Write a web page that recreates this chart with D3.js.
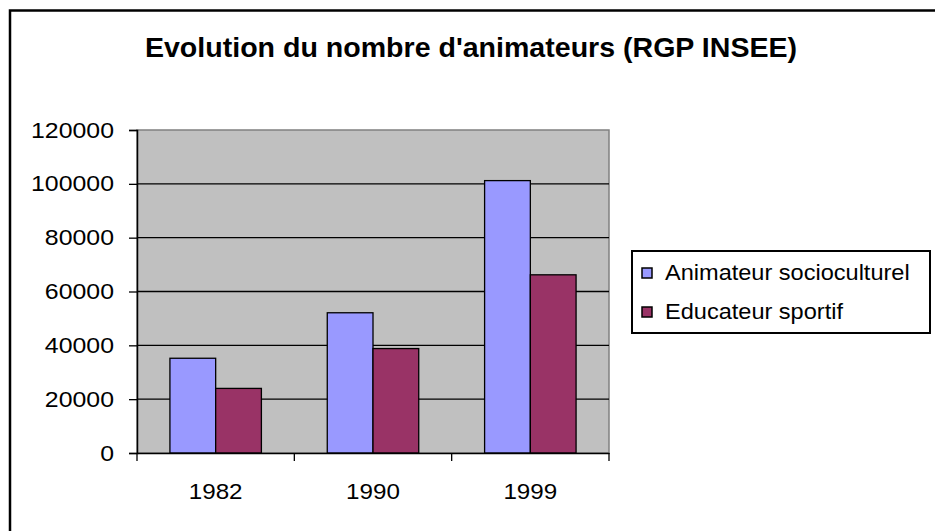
<!DOCTYPE html>
<html>
<head>
<meta charset="utf-8">
<script src="https://cdn.jsdelivr.net/npm/d3@7"></script>
<style>
  html, body { margin: 0; padding: 0; background: #fff; }
  svg { display: block; font-family: "Liberation Sans", Arial, sans-serif; }
</style>
</head>
<body>
<svg id="chart" width="935" height="531"></svg>
<script>
const title = "Evolution du nombre d'animateurs (RGP INSEE)";
const categories = ["1982", "1990", "1999"];
const seriesNames = ["Animateur socioculturel", "Educateur sportif"];
const animateurValues = [35200, 52100, 101200];
const educateurValues = [24000, 38800, 66200];
const seriesColors = ["#9999FF", "#993366"];
const yTicks = [0, 20000, 40000, 60000, 80000, 100000, 120000];

const seriesValues = [animateurValues, educateurValues];
const rows = categories.map((c, i) => ({
  cat: c,
  vals: seriesNames.map((s, j) => ({ series: s, idx: j, value: seriesValues[j][i] }))
}));

// stretch text horizontally like the reference rendering
function stretch(sel, factor) {
  sel.each(function () {
    const w = this.getComputedTextLength();
    d3.select(this).attr("textLength", w * factor).attr("lengthAdjust", "spacingAndGlyphs");
  });
}

const svg = d3.select("#chart");
const plot = { left: 137, right: 609, top: 130, bottom: 453 };

// outer chart border (cropped on right/bottom)
svg.append("path")
  .attr("d", `M10,535 L10,10.5 L940,10.5`)
  .attr("fill", "none").attr("stroke", "#000").attr("stroke-width", 2.5);

svg.append("text")
  .attr("x", 471).attr("y", 57)
  .attr("text-anchor", "middle")
  .attr("font-weight", "bold").attr("font-size", 28)
  .text(title)
  .call(stretch, 1.02);

const x = d3.scaleBand().domain(categories).range([plot.left, plot.right]).padding(0);
const xInner = d3.scaleBand().domain(seriesNames).range([0, x.bandwidth()])
  .paddingInner(0).paddingOuter(0.72);
const y = d3.scaleLinear().domain([0, 120000]).range([plot.bottom, plot.top]);

// plot area
svg.append("rect")
  .attr("x", plot.left).attr("y", plot.top)
  .attr("width", plot.right - plot.left).attr("height", plot.bottom - plot.top)
  .attr("fill", "#C0C0C0").attr("stroke", "#808080").attr("stroke-width", 1.5);

// gridlines
svg.append("g").selectAll("line").data(yTicks.filter(t => t > 0 && t < 120000)).join("line")
  .attr("x1", plot.left).attr("x2", plot.right)
  .attr("y1", d => y(d)).attr("y2", d => y(d))
  .attr("stroke", "#000").attr("stroke-width", 1.3);

// bars
const groups = svg.append("g").selectAll("g").data(rows).join("g")
  .attr("transform", d => `translate(${x(d.cat)},0)`);
groups.selectAll("rect").data(d => d.vals).join("rect")
  .attr("x", d => xInner(d.series))
  .attr("width", xInner.bandwidth())
  .attr("y", d => y(d.value))
  .attr("height", d => y(0) - y(d.value))
  .attr("fill", d => seriesColors[d.idx])
  .attr("stroke", "#000").attr("stroke-width", 1.3);

// y axis
const yAxis = d3.axisLeft(y).tickValues(yTicks).tickFormat(d3.format("d")).tickSize(8).tickPadding(15);
const gy = svg.append("g").attr("transform", `translate(${plot.left},0)`).call(yAxis);
gy.select(".domain").attr("stroke", "#000").attr("stroke-width", 1.5);
gy.selectAll(".tick line").attr("stroke", "#000").attr("stroke-width", 1.3);
gy.selectAll(".tick text").attr("font-size", 22).attr("fill", "#000")
  .attr("font-family", "Liberation Sans, Arial, sans-serif")
  .call(stretch, 1.13);

// x axis
const xAxis = d3.axisBottom(x).tickSize(0).tickPadding(30);
const gx = svg.append("g").attr("transform", `translate(0,${plot.bottom})`).call(xAxis);
gx.select(".domain").attr("stroke", "#000").attr("stroke-width", 1.5);
gx.selectAll(".tick text").attr("font-size", 22).attr("fill", "#000")
  .attr("font-family", "Liberation Sans, Arial, sans-serif")
  .call(stretch, 1.1);
// category separator ticks
const sepPositions = categories.map(c => x(c)).concat([plot.right]);
gx.append("g").selectAll("line").data(sepPositions).join("line")
  .attr("x1", d => d).attr("x2", d => d).attr("y1", 0).attr("y2", 8)
  .attr("stroke", "#000").attr("stroke-width", 1.3);

// legend
const lg = svg.append("g");
lg.append("rect").attr("x", 632).attr("y", 251).attr("width", 298).attr("height", 82)
  .attr("fill", "#fff").attr("stroke", "#000").attr("stroke-width", 2);
const items = lg.selectAll("g.item").data(seriesNames).join("g").attr("class", "item")
  .attr("transform", (d, i) => `translate(642,${268 + i * 39})`);
items.append("rect").attr("width", 10).attr("height", 10)
  .attr("fill", (d, i) => seriesColors[i]).attr("stroke", "#000").attr("stroke-width", 1.5);
items.append("text").attr("x", 23).attr("y", 11.5)
  .attr("font-size", 22).text(d => d)
  .call(stretch, 1.07);
</script>
</body>
</html>
